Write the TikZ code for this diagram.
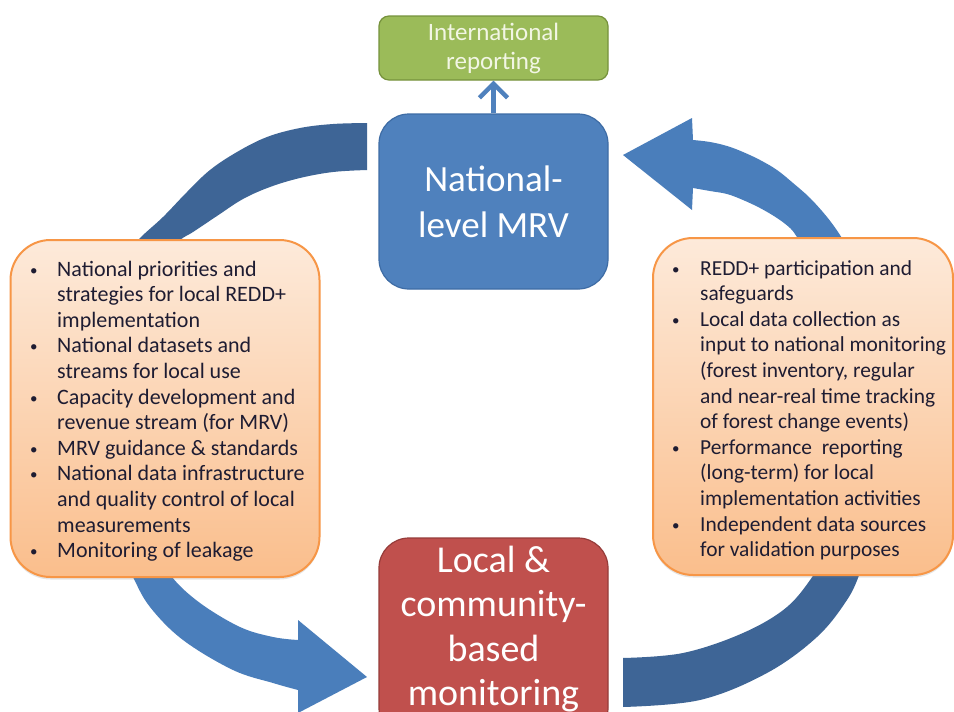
\documentclass[tikz,border=0pt]{standalone}
\usepackage{fontspec}
\setmainfont{Carlito}
\usetikzlibrary{arrows.meta,shadows}
\definecolor{darkarc}{RGB}{62,101,150}
\definecolor{lightarc}{RGB}{74,126,187}
\definecolor{bluefill}{RGB}{79,129,189}
\definecolor{blueline}{RGB}{62,108,165}
\definecolor{greenfill}{RGB}{155,187,89}
\definecolor{greenline}{RGB}{118,146,60}
\definecolor{redfill}{RGB}{192,80,77}
\definecolor{redline}{RGB}{150,60,58}
\definecolor{orangetop}{RGB}{253,234,218}
\definecolor{orangebot}{RGB}{250,190,140}
\definecolor{orangeline}{RGB}{247,150,70}
\definecolor{bodytext}{RGB}{30,28,50}
\definecolor{greentext}{RGB}{242,246,228}
\newcommand{\smallbul}{\raisebox{1pt}{\fontsize{15}{15}\selectfont\textbullet}}
\begin{document}
\begin{tikzpicture}[x=1pt,y=-1pt,
  mainbox/.style={rectangle, rounded corners=30pt, line width=1.2pt, minimum width=229pt, inner sep=0pt, text=white, align=center},
  infobox/.style={rectangle, rounded corners=40pt, draw=orangeline, line width=2pt, top color=orangetop, bottom color=orangebot, inner sep=0pt,
    drop shadow={opacity=0.2,shadow xshift=0pt,shadow yshift=-2.5pt}},
  bodylist/.style={inner sep=0pt, anchor=base west, text=bodytext},
]
\useasboundingbox (0,0) rectangle (954,712);
\clip (0,0) rectangle (954,712);
\fill[white] (0,0) rectangle (954,712);

% top-left arc (no head)
\fill[darkarc] plot[smooth,tension=0.6] coordinates {(367,123) (333,124) (300,128) (267,137) (237,152) (210,170) (187,192) (163,217) (140,238) (118,262)}
  -- plot[smooth,tension=0.6] coordinates {(160,258) (180,240) (193,232) (217,216) (243,199) (270,187) (300,178) (333,172) (367,170)} -- cycle;
% top-right arrow
\fill[lightarc] (623,155) -- (692,118) -- (693,140)
  -- plot[smooth,tension=0.6] coordinates {(693,140) (710,142) (727,146) (743,152) (760,160) (777,170) (793,183) (810,198) (827,217) (840,235) (855,260)}
  -- plot[smooth,tension=0.6] coordinates {(812,260) (797,237) (790,228) (777,218) (760,208) (743,200) (727,194) (710,191) (693,188)}
  -- (692,210) -- cycle;
% bottom-right arc (no head)
\fill[darkarc] plot[smooth,tension=0.6] coordinates {(623,707) (700,700) (767,673) (817,637) (847,600) (860,573) (868,550)}
  -- plot[smooth,tension=0.6] coordinates {(828,550) (815,573) (787,607) (743,633) (683,653) (623,658)} -- cycle;
% bottom-left arrow
\fill[lightarc] (367,677) -- (298,620) -- (298,640)
  -- plot[smooth,tension=0.6] coordinates {(298,640) (273,637) (240,627) (200,603) (172,577) (160,552)}
  -- plot[smooth,tension=0.6] coordinates {(122,552) (133,577) (150,607) (183,640) (233,670) (273,683) (298,690)}
  -- (298,713) -- cycle;

% boxes
\node[mainbox, fill=greenfill, draw=greenline, rounded corners=10pt, minimum height=64pt, text=greentext,
  font=\fontsize{25}{29}\selectfont] (intl) at (493.5,48) {International\\reporting};
\node[mainbox, fill=bluefill, draw=blueline, minimum height=175pt,
  font=\fontsize{37}{46}\selectfont] (national) at (493.5,201.5) {National-\\level MRV};
\node[mainbox, fill=redfill, draw=redline, minimum height=200pt] (localbox) at (493.5,638) {};
\node[text=white, align=center, inner sep=0pt, font=\fontsize{38}{44.5}\selectfont] (localtext) at (493.5,629)
  {Local \&\\community-\\based\\monitoring};

\draw[bluefill, line width=4.5pt, -{Straight Barb[length=14pt,width=28pt]}] (national.north) -- (intl.south);

\node[infobox, minimum width=309pt, minimum height=337pt] (leftbox) at (165,408.5) {};
\node[infobox, minimum width=300pt, minimum height=337pt] (rightbox) at (803,406.5) {};

\node[bodylist, font=\fontsize{22}{25.6}\selectfont] (lefttext) at (30,276) {\begin{tabular}[t]{@{}p{27pt}@{}l@{}}
\smallbul & National priorities and\\
 & strategies for local REDD+\\
 & implementation\\
\smallbul & National datasets and\\
 & streams for local use\\
\smallbul & Capacity development and\\
 & revenue stream (for MRV)\\
\smallbul & MRV guidance \& standards\\
\smallbul & National data infrastructure\\
 & and quality control of local\\
 & measurements\\
\smallbul & Monitoring of leakage
\end{tabular}};

\node[bodylist, font=\fontsize{21.4}{25.6}\selectfont] (righttext) at (672,275) {\begin{tabular}[t]{@{}p{28pt}@{}l@{}}
\smallbul & REDD+ participation and\\
 & safeguards\\
\smallbul & Local data collection as\\
 & input to national monitoring\\
 & (forest inventory, regular\\
 & and near-real time tracking\\
 & of forest change events)\\
\smallbul & Performance\ \ reporting\\
 & (long-term) for local\\
 & implementation activities\\
\smallbul & Independent data sources\\
 & for validation purposes
\end{tabular}};
\end{tikzpicture}
\end{document}
